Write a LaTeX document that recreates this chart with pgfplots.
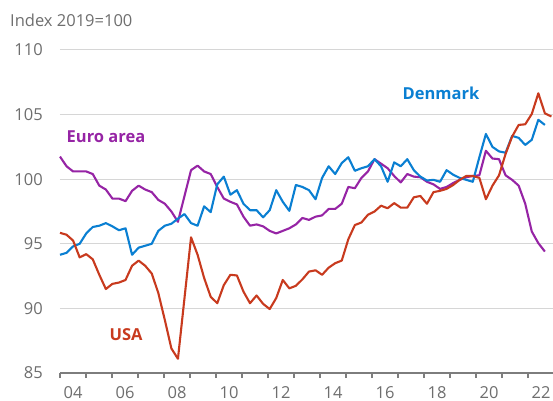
\documentclass[border=0pt]{standalone}
\usepackage{pgfplots}
\pgfplotsset{compat=1.18}
\usepackage{pgfplotstable}
\usepackage{fontspec}
\setmainfont{Open Sans}
\definecolor{dkblue}{RGB}{10,127,210}
\definecolor{eupurple}{RGB}{150,36,165}
\definecolor{usred}{RGB}{200,58,30}
\definecolor{txtgray}{RGB}{110,110,110}
\definecolor{gridgray}{RGB}{214,214,214}
\definecolor{axgray}{RGB}{125,125,125}

\pgfplotstableread{
q v
0 101.75
1 101.0
2 100.6
3 100.6
4 100.6
5 100.4
6 99.5
7 99.2
8 98.5
9 98.5
10 98.3
11 99.1
12 99.5
13 99.2
14 99.0
15 98.4
16 98.1
17 97.5
18 96.7
20 100.7
21 101.05
22 100.6
23 100.4
24 99.4
25 98.5
26 98.25
27 98.05
28 97.1
29 96.4
30 96.5
31 96.35
32 96.0
33 95.8
34 96.0
35 96.2
36 96.5
37 97.0
38 96.85
39 97.1
40 97.2
41 97.7
42 97.7
43 98.1
44 99.4
45 99.3
46 100.1
47 100.6
48 101.55
49 101.2
50 100.85
51 100.25
52 99.75
53 100.4
54 100.2
55 100.15
56 99.8
57 99.6
58 99.25
59 99.4
60 99.7
61 99.95
62 100.15
63 100.25
64 100.3
65 102.2
66 101.6
67 101.55
68 100.3
69 99.95
70 99.5
71 98.1
72 95.95
73 95.05
74 94.4
}\euro

\pgfplotstableread{
q v
0 94.15
1 94.3
2 94.8
3 95.0
4 95.8
5 96.3
6 96.4
7 96.6
8 96.35
9 96.05
10 96.2
11 94.15
12 94.7
13 94.85
14 95.0
15 96.0
16 96.4
17 96.55
18 96.95
19 97.3
20 96.6
21 96.4
22 97.9
23 97.45
24 99.6
25 100.2
26 98.8
27 99.15
28 98.1
29 97.6
30 97.6
31 97.05
32 97.6
33 99.15
34 98.25
35 97.55
36 99.55
37 99.4
38 99.15
39 98.45
40 100.1
41 101.0
42 100.4
43 101.25
44 101.7
45 100.65
46 100.85
47 101.0
48 101.55
49 101.0
50 99.8
51 101.3
52 101.0
53 101.55
54 100.7
55 100.2
56 99.9
57 99.95
58 99.8
59 100.7
60 100.35
61 100.1
62 99.95
63 99.8
64 101.7
65 103.5
66 102.5
67 102.15
68 102.05
69 103.35
70 103.2
71 102.65
72 103.05
73 104.6
74 104.2
}\denmark

\pgfplotstableread{
q v
0 95.85
1 95.7
2 95.25
3 93.95
4 94.2
5 93.8
6 92.6
7 91.5
8 91.9
9 92.0
10 92.2
11 93.3
12 93.7
13 93.3
14 92.7
15 91.2
16 89.1
17 86.9
18 86.1
20 95.5
21 94.15
22 92.35
23 90.9
24 90.4
25 91.8
26 92.6
27 92.55
28 91.3
29 90.4
30 91.0
31 90.35
32 89.95
33 90.8
34 92.2
35 91.55
36 91.75
37 92.25
38 92.85
39 92.95
40 92.6
41 93.15
42 93.5
43 93.7
44 95.35
45 96.45
46 96.65
47 97.25
48 97.5
49 97.95
50 97.75
51 98.15
52 97.8
53 97.8
54 98.6
55 98.7
56 98.1
57 99.0
58 99.1
59 99.25
60 99.55
61 99.95
62 100.25
63 100.25
64 100.1
65 98.45
66 99.5
67 100.3
68 101.95
69 103.3
70 104.2
71 104.25
72 105.05
73 106.65
74 105.1
75 104.85
}\usa

\begin{document}
\begin{tikzpicture}
\begin{axis}[
  scale only axis,
  width=493bp, height=323bp,
  at={(0,0)}, anchor=south west,
  xmin=2004, xmax=2022.96,
  ymin=85, ymax=110,
  axis x line*=bottom,
  axis y line*=left,
  y axis line style={draw=none},
  x axis line style={draw=axgray, line width=1.2bp, -},
  ytick={85,90,95,100,105,110},
  ytick style={draw=none},
  ymajorgrids,
  grid style={draw=gridgray, line width=1bp},
  xtick={2004.5,2006.5,2008.5,2010.5,2012.5,2014.5,2016.5,2018.5,2020.5,2022.5},
  xticklabels={04,06,08,10,12,14,16,18,20,22},
  minor xtick={2004,2005,...,2022},
  major tick length=0pt,
  minor tick length=5bp,
  tick align=outside,
  xtick style={draw=axgray, line width=1.2bp},
  minor x tick style={draw=axgray, line width=1.2bp},
  /pgf/number format/assume math mode=true,
  ticklabel style={font=\fontsize{16.5bp}{19bp}\selectfont, text=txtgray},
  yticklabel style={inner sep=0pt, anchor=east, xshift=-17bp},
  xticklabel style={inner sep=0pt, anchor=base, yshift=-25bp},
  clip=false,
]
\addplot[color=eupurple, line width=2.1bp, line join=round] table[x expr=2004+0.252*\thisrow{q}, y=v] {\euro};
\addplot[color=dkblue, line width=2.1bp, line join=round] table[x expr=2004+0.252*\thisrow{q}, y=v] {\denmark};
\addplot[color=usred, line width=2.1bp, line join=round] table[x expr=2004+0.252*\thisrow{q}, y=v] {\usa};
\node[font=\fontsize{16.5bp}{19bp}\selectfont\bfseries, text=dkblue] at (axis cs:2018.65,106.67) {Denmark};
\node[font=\fontsize{16.5bp}{19bp}\selectfont\bfseries, text=eupurple] at (axis cs:2005.77,103.27) {Euro area};
\node[font=\fontsize{16.5bp}{19bp}\selectfont\bfseries, text=usred] at (axis cs:2006.54,87.95) {USA};
\end{axis}
\node[anchor=base west, inner sep=0pt, font=\fontsize{16.5bp}{19bp}\selectfont, text=txtgray] at (-50bp,346bp) {Index 2019=100};
\pgfresetboundingbox
\path (-60bp,-28bp) rectangle (493bp,373bp);
\end{tikzpicture}
\end{document}
